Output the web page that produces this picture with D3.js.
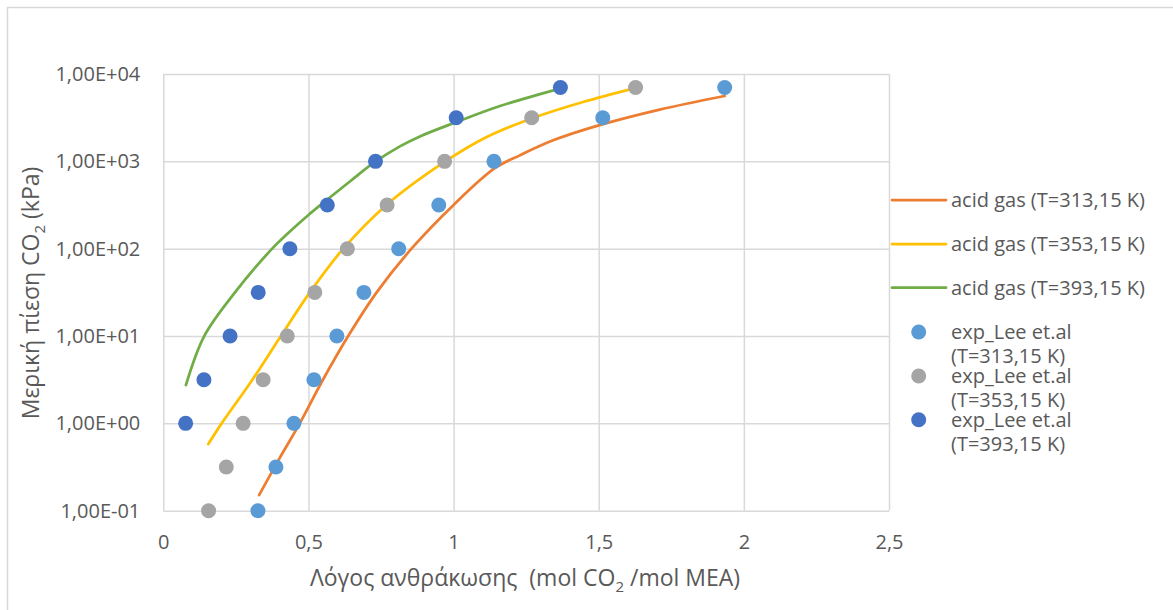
<!DOCTYPE html>
<html>
<head>
<meta charset="utf-8">
<script src="https://cdn.jsdelivr.net/npm/d3@7"></script>
<style>
  body { margin: 0; background: #fff; }
  text { font-family: "Open Sans", sans-serif; fill: #595959; }
</style>
</head>
<body>
<div id="wrapper"></div>
<script>
// tick labels
const xTicks = [0, 0.5, 1, 1.5, 2, 2.5];
const xTickLabels = ["0", "0,5", "1", "1,5", "2", "2,5"];
const yTicks = [0.1, 1, 10, 100, 1000, 10000];
const yTickLabels = ["1,00E-01", "1,00E+00", "1,00E+01", "1,00E+02", "1,00E+03", "1,00E+04"];

// model curves (acid gas)
const acid313 = [
  [0.33, 0.151], [0.397, 0.38], [0.47, 1], [0.55, 3.16], [0.637, 10],
  [0.735, 31.6], [0.855, 100], [1.0, 317], [1.142, 834], [1.228, 1170],
  [1.343, 1740], [1.5, 2580], [1.71, 3910], [1.934, 5600]
];
const acid353 = [
  [0.155, 0.579], [0.201, 1], [0.307, 3.16], [0.405, 10], [0.505, 31.6],
  [0.620, 100], [0.769, 317], [0.970, 990], [1.114, 1900], [1.269, 3100],
  [1.446, 4780], [1.625, 6900]
];
const acid393 = [
  [0.078, 2.75], [0.141, 10], [0.247, 31.6], [0.375, 100], [0.436, 157],
  [0.5, 243], [0.563, 361], [0.646, 600], [0.729, 983], [0.815, 1485],
  [0.884, 1930], [1.01, 2820], [1.16, 4300], [1.366, 6800]
];

// experimental points (Lee et.al)
const expPressure = [0.1, 0.316, 1, 3.16, 10, 31.6, 100, 316, 1000, 3160, 7000];
const exp313x = [0.326, 0.388, 0.450, 0.519, 0.598, 0.691, 0.811, 0.949, 1.139, 1.514, 1.934];
const exp353x = [0.156, 0.217, 0.275, 0.344, 0.427, 0.522, 0.634, 0.771, 0.969, 1.269, 1.627];
const exp393x = [0.077, 0.140, 0.230, 0.327, 0.436, 0.565, 0.731, 1.009, 1.368];
const exp393y = [1, 3.16, 10, 31.6, 100, 316, 1000, 3160, 7000];

const lineNames = ["acid gas (T=313,15 K)", "acid gas (T=353,15 K)", "acid gas (T=393,15 K)"];
const pointNames = [["exp_Lee et.al", "(T=313,15 K)"], ["exp_Lee et.al", "(T=353,15 K)"], ["exp_Lee et.al", "(T=393,15 K)"]];
const lineColors = ["#ED7D31", "#FFC000", "#70AD47"];
const pointColors = ["#5B9BD5", "#A5A5A5", "#4472C4"];

function drawChart() {
    const xAccessor = d => d[0];
    const yAccessor = d => d[1];

    let dimensions = {
        width: 1173,
        height: 610,
        margin: { top: 74, right: 284, bottom: 99.3, left: 163.3 },
    };
    dimensions.boundedWidth = dimensions.width - dimensions.margin.left - dimensions.margin.right;
    dimensions.boundedHeight = dimensions.height - dimensions.margin.top - dimensions.margin.bottom;

    const wrapper = d3.select("#wrapper")
        .append("svg")
        .attr("width", dimensions.width)
        .attr("height", dimensions.height);

    // chart area border (only left and top show inside the picture)
    wrapper.append("rect")
        .attr("x", 7.5).attr("y", 7.5)
        .attr("width", 1200).attr("height", 700)
        .attr("fill", "none")
        .attr("stroke", "#D9D9D9")
        .attr("stroke-width", 1.5);

    const bounds = wrapper.append("g")
        .attr("transform", `translate(${dimensions.margin.left},${dimensions.margin.top})`);

    // scales
    const xScale = d3.scaleLinear()
        .domain([0, 2.5])
        .range([0, dimensions.boundedWidth]);

    const yScale = d3.scaleLog()
        .domain([0.1, 10000])
        .range([dimensions.boundedHeight, 0]);

    // gridlines + tick labels
    const xAxisGenerator = d3.axisBottom(xScale)
        .tickValues(xTicks)
        .tickSize(-dimensions.boundedHeight)
        .tickPadding(24)
        .tickFormat((d, i) => xTickLabels[i]);

    const xAxis = bounds.append("g")
        .attr("transform", `translate(0,${dimensions.boundedHeight})`)
        .call(xAxisGenerator);

    const yAxisGenerator = d3.axisLeft(yScale)
        .tickValues(yTicks)
        .tickSize(-dimensions.boundedWidth)
        .tickPadding(23)
        .tickFormat((d, i) => yTickLabels[i]);

    const yAxis = bounds.append("g")
        .call(yAxisGenerator);

    [xAxis, yAxis].forEach(ax => {
        ax.select(".domain").remove();
        ax.selectAll(".tick line").attr("stroke", "#D9D9D9").attr("stroke-width", 1.5);
        ax.selectAll(".tick text")
            .attr("fill", "#595959")
            .style("font-family", "'Open Sans', sans-serif")
            .style("font-size", "20px");
    });

    // smoothed lines
    const lineGenerator = d3.line()
        .x(d => xScale(xAccessor(d)))
        .y(d => yScale(yAccessor(d)))
        .curve(d3.curveCatmullRom.alpha(0.5));

    [acid313, acid353, acid393].forEach((series, i) => {
        bounds.append("path")
            .datum(series)
            .attr("d", lineGenerator)
            .attr("fill", "none")
            .attr("stroke", lineColors[i])
            .attr("stroke-width", 2.75)
            .attr("stroke-linecap", "round");
    });

    // experimental points
    const pointSets = [
        exp313x.map((x, i) => [x, expPressure[i]]),
        exp353x.map((x, i) => [x, expPressure[i]]),
        exp393x.map((x, i) => [x, exp393y[i]]),
    ];
    pointSets.forEach((set, i) => {
        bounds.append("g").selectAll("circle")
            .data(set)
            .enter().append("circle")
            .attr("cx", d => xScale(xAccessor(d)))
            .attr("cy", d => yScale(yAccessor(d)))
            .attr("r", 7.5)
            .attr("fill", pointColors[i]);
    });

    // axis titles
    const xTitle = wrapper.append("text")
        .attr("x", 525)
        .attr("y", 586)
        .attr("text-anchor", "middle")
        .style("font-size", "23px")
        .style("white-space", "pre");
    xTitle.append("tspan").text("Λόγος ανθράκωσης  (mol CO");
    xTitle.append("tspan").attr("dy", 6).style("font-size", "15px").text("2");
    xTitle.append("tspan").attr("dy", -6).text(" /mol MEA)");

    const yTitle = wrapper.append("text")
        .attr("transform", "translate(39,293) rotate(-90)")
        .attr("text-anchor", "middle")
        .style("font-size", "23px");
    yTitle.append("tspan").text("Μερική πίεση CO");
    yTitle.append("tspan").attr("dy", 6).style("font-size", "15px").text("2");
    yTitle.append("tspan").attr("dy", -6).text(" (kPa)");

    // legend
    const legend = wrapper.append("g");
    const lineY = [200, 244, 287.7];
    lineNames.forEach((name, i) => {
        legend.append("line")
            .attr("x1", 892).attr("x2", 946)
            .attr("y1", lineY[i]).attr("y2", lineY[i])
            .attr("stroke", lineColors[i])
            .attr("stroke-width", 2.75)
            .attr("stroke-linecap", "round");
        legend.append("text")
            .attr("x", 951).attr("y", lineY[i])
            .attr("dy", "0.35em")
            .style("font-size", "20px")
            .text(name);
    });

    // point entries: markers, and their wrapped labels as one text block
    const pointY = [332, 376, 419.7];
    pointNames.forEach((name, i) => {
        legend.append("circle")
            .attr("cx", 918.7).attr("cy", pointY[i])
            .attr("r", 7.5)
            .attr("fill", pointColors[i]);
    });
    const pointLabels = legend.append("text")
        .style("font-size", "20px");
    pointNames.forEach((name, i) => {
        name.forEach((part, j) => {
            pointLabels.append("tspan")
                .attr("x", 951)
                .attr("y", pointY[i] + j * 24 + 7)
                .text(part);
        });
    });
}

drawChart();
</script>
</body>
</html>
